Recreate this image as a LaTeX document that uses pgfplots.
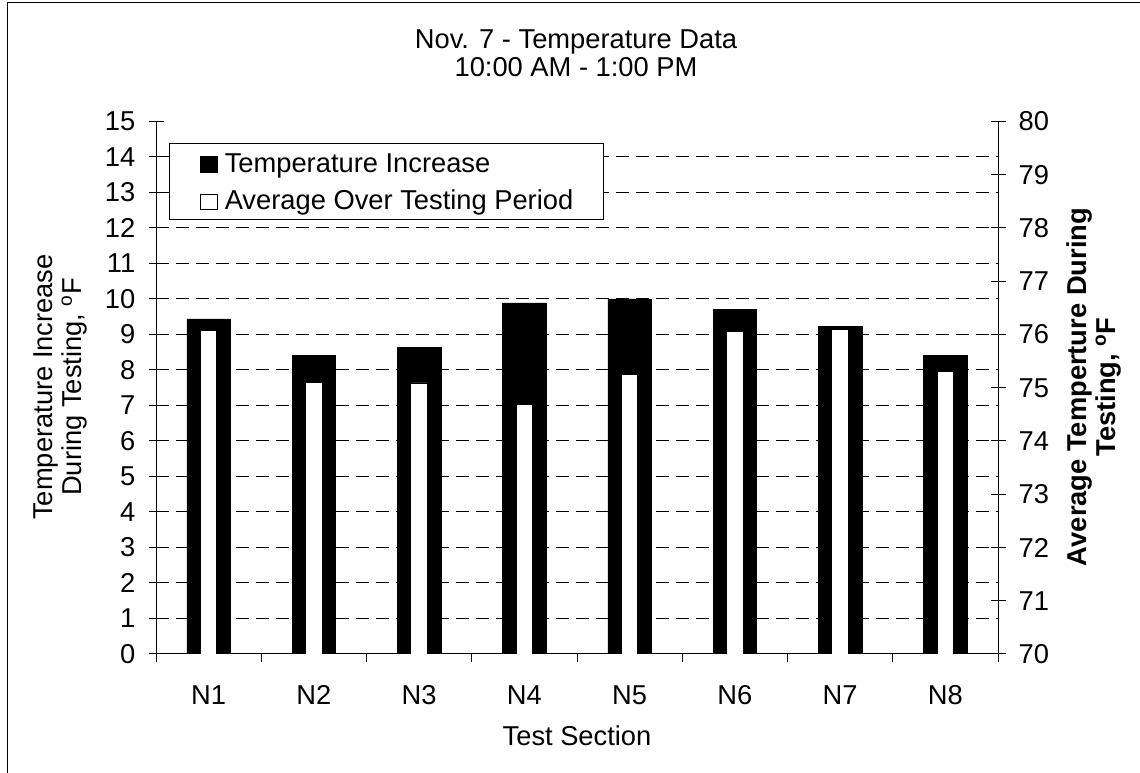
\documentclass[border=0pt]{standalone}
\usepackage{pgfplots}
\pgfplotsset{compat=1.18}
\usepackage{fontspec}
\setmainfont{Liberation Sans}
\newcommand\ff{\fontsize{27.3}{30}\selectfont}
\begin{document}
\begin{tikzpicture}[x=1pt,y=1pt]
\useasboundingbox (0,0) rectangle (1140,773);
\draw[line width=1.3pt] (7.3,-5) -- (7.3,770.3) -- (1145,770.3);
\pgfplotsset{
  every tick label/.append style={font=\ff},
  /pgf/number format/assume math mode=true,
}
\begin{axis}[
  at={(156pt,119pt)}, anchor=south west, scale only axis,
  width=842pt, height=532.5pt,
  xmin=-0.5, xmax=7.5, ymin=0, ymax=15,
  axis y line*=left, axis x line*=bottom,
  axis line style={-, line width=1pt, black},
  ytick={0,...,15},
  xtick={0,...,7}, xticklabels={N1,N2,N3,N4,N5,N6,N7,N8},
  major x tick style={draw=none},
  minor xtick={-0.5,0.5,...,7.5},
  minor tick length=8pt,
  minor x tick style={black, line width=1pt, yshift=-4pt},
  tick align=center,
  major tick length=15pt,
  major y tick style={black, line width=1pt},
  grid=none,
  extra y ticks={1,...,14},
  extra y tick labels={},
  extra y tick style={ymajorgrids, major tick length=0pt,
    major grid style={black, line width=1pt, dash pattern=on 13pt off 7pt}},
  xticklabel style={anchor=base, inner sep=0pt, yshift=-43pt},
  yticklabel style={anchor=east, inner sep=0pt, xshift=-13pt},
]
\addplot[ybar, bar width=43.5pt, fill=black, draw=black] coordinates {
  (0,9.44) (1,8.41) (2,8.63) (3,9.89) (4,10.0) (5,9.70) (6,9.22) (7,8.41)};
\end{axis}
\begin{axis}[
  at={(156pt,119pt)}, anchor=south west, scale only axis,
  width=842pt, height=532.5pt,
  xmin=-0.5, xmax=7.5, ymin=70, ymax=80,
  axis y line*=right, axis x line=none,
  axis line style={-, line width=1pt, black},
  ytick={70,...,80},
  tick align=center,
  major tick length=15pt,
  major y tick style={black, line width=1pt},
  yticklabel style={anchor=west, inner sep=0pt, xshift=13pt},
  legend style={at={(0.0160,0.9602)}, anchor=north west, draw=black, line width=1pt,
    font=\ff, inner xsep=30pt, inner ysep=9pt, row sep=17.3pt, column sep=7pt,
    nodes={inner sep=0pt, text height=20pt, text depth=0pt}},
  legend cell align=left,
]
\addlegendimage{legend image code/.code={\draw[fill=black,draw=black,line width=0.8pt] (0pt,-10pt) rectangle (17pt,5.5pt);}}
\addlegendentry{Temperature Increase}
\addlegendimage{legend image code/.code={\draw[fill=white,draw=black,line width=0.8pt] (0pt,-10pt) rectangle (17pt,5.5pt);}}
\addlegendentry{Average Over Testing Period}
\addplot[ybar, bar width=16.5pt, fill=white, draw=black, line width=0.8pt, forget plot] coordinates {
  (0,76.07) (1,75.10) (2,75.09) (3,74.69) (4,75.25) (5,76.05) (6,76.10) (7,75.31)};
\end{axis}
\node[font=\ff, anchor=base] at (576,724.7) {Nov. 7 - Temperature Data};
\node[font=\ff, anchor=base] at (576,696) {10:00 AM - 1:00 PM};
\node[font=\ff, anchor=base] at (577,27.7) {Test Section};
\node[font=\ff, anchor=base, rotate=90] at (52,386) {Temperature Increase};
\node[font=\ff, anchor=base, rotate=90] at (81,386) {During Testing, \textsuperscript{o}F};
\node[font=\ff\bfseries, anchor=base, rotate=90] at (1086,386) {Average Temperture During};
\node[font=\ff\bfseries, anchor=base, rotate=90] at (1115,386) {Testing, \textsuperscript{o}F};
\end{tikzpicture}
\end{document}
